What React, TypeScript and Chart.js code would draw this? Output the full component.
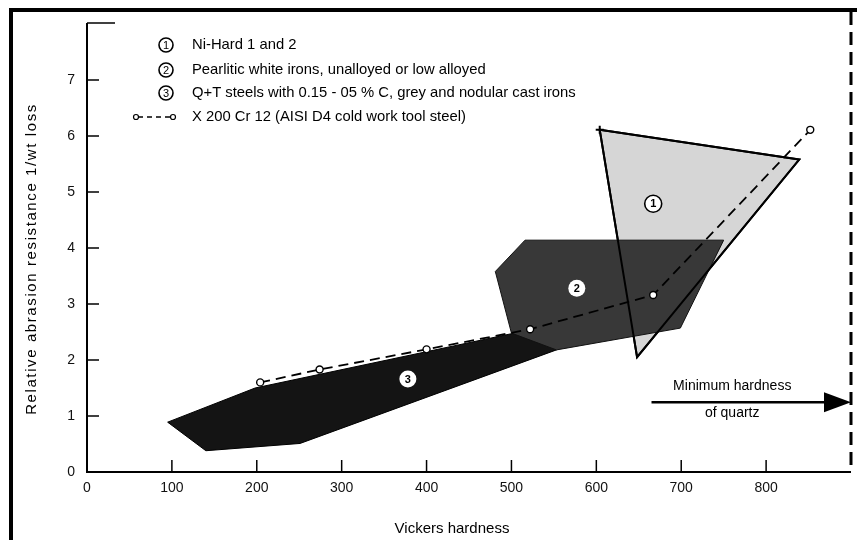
import React, { useEffect, useRef } from "react";
import { Chart, registerables } from "chart.js";

Chart.register(...registerables);

// ---- data ----
const niHardX = [604, 839, 648, 604];
const niHardY = [6.11, 5.58, 2.05, 6.11];

const pearliticX = [481, 516, 750, 699, 553, 500, 481];
const pearliticY = [3.58, 4.14, 4.14, 2.57, 2.18, 2.48, 3.58];

const qtSteelX = [95, 140, 251, 553, 522, 198, 95];
const qtSteelY = [0.89, 0.38, 0.51, 2.18, 2.54, 1.5, 0.89];

const toolSteelX = [204, 274, 400, 522, 667, 852];
const toolSteelY = [1.6, 1.83, 2.19, 2.55, 3.16, 6.11];

const xTickValues = [0, 100, 200, 300, 400, 500, 600, 700, 800];
const yTickValues = [0, 1, 2, 3, 4, 5, 6, 7];

const legendLabels = [
  "Ni-Hard 1 and 2",
  "Pearlitic white irons, unalloyed or low alloyed",
  "Q+T steels with 0.15 - 05 % C, grey and nodular cast irons",
  "X 200 Cr 12 (AISI D4 cold work tool steel)",
];
const legendMarks = ["1", "2", "3", ""];

const regionLabels = ["1", "2", "3"];
const regionLabelX = [667, 577, 378];
const regionLabelY = [4.79, 3.28, 1.66];

const quartzHardness = 900;
const arrowStartX = 665;
const arrowY = 1.245;
const quartzText = ["Minimum hardness", "of quartz"];

const xTitle = "Vickers hardness";
const yTitle = "Relative abrasion resistance 1/wt loss";

const FONT = '"Liberation Sans", Arial, sans-serif';

const pts = (xs: number[], ys: number[]) => xs.map((x, i) => ({ x, y: ys[i] }));

const overlay = {
  id: "overlay",
  beforeDraw(chart: any) {
    const ctx = chart.ctx;
    ctx.save();
    ctx.fillStyle = "#fff";
    ctx.fillRect(0, 0, chart.width, chart.height);
    ctx.restore();
  },
  afterDraw(chart: any) {
    const ctx = chart.ctx as CanvasRenderingContext2D;
    const xs = chart.scales.x;
    const ys = chart.scales.y;
    const { left, right, top, bottom } = chart.chartArea;
    ctx.save();
    ctx.strokeStyle = "#000";
    ctx.fillStyle = "#000";

    // frame
    ctx.fillRect(9, 8, 4, chart.height);
    ctx.fillRect(9, 8, chart.width, 4);

    // axes
    ctx.lineWidth = 2;
    ctx.beginPath();
    ctx.moveTo(left, top - 1);
    ctx.lineTo(left, bottom);
    ctx.lineTo(right, bottom);
    ctx.stroke();
    ctx.lineWidth = 1.5;
    ctx.beginPath();
    ctx.moveTo(left, top - 1);
    ctx.lineTo(left + 28, top - 1);
    ctx.stroke();

    // inward ticks
    ctx.lineWidth = 1.5;
    yTickValues.slice(1).forEach((v) => {
      const py = ys.getPixelForValue(v);
      ctx.beginPath();
      ctx.moveTo(left, py);
      ctx.lineTo(left + 12, py);
      ctx.stroke();
    });
    xTickValues.slice(1).forEach((v) => {
      const px = xs.getPixelForValue(v);
      ctx.beginPath();
      ctx.moveTo(px, bottom);
      ctx.lineTo(px, bottom - 12);
      ctx.stroke();
    });

    // quartz dashed line
    const qx = xs.getPixelForValue(quartzHardness);
    ctx.lineWidth = 3;
    ctx.setLineDash([13, 7]);
    ctx.beginPath();
    ctx.moveTo(qx, 12);
    ctx.lineTo(qx, bottom);
    ctx.stroke();
    ctx.setLineDash([]);

    // arrow
    const ay = ys.getPixelForValue(arrowY);
    const ax0 = xs.getPixelForValue(arrowStartX);
    ctx.lineWidth = 2.5;
    ctx.beginPath();
    ctx.moveTo(ax0, ay);
    ctx.lineTo(qx - 20, ay);
    ctx.stroke();
    ctx.beginPath();
    ctx.moveTo(qx, ay);
    ctx.lineTo(qx - 27, ay - 10);
    ctx.lineTo(qx - 27, ay + 10);
    ctx.closePath();
    ctx.fill();
    ctx.font = `14px ${FONT}`;
    ctx.textAlign = "center";
    ctx.textBaseline = "middle";
    const tcx = (ax0 + qx) / 2 - 19;
    ctx.fillText(quartzText[0], tcx, ay - 16);
    ctx.fillText(quartzText[1], tcx, ay + 11);

    // region labels
    regionLabels.forEach((lab, i) => {
      const px = xs.getPixelForValue(regionLabelX[i]);
      const py = ys.getPixelForValue(regionLabelY[i]);
      ctx.beginPath();
      ctx.arc(px, py, 8.5, 0, Math.PI * 2);
      ctx.fillStyle = "#fff";
      ctx.fill();
      if (i === 0) {
        ctx.lineWidth = 1.6;
        ctx.stroke();
      }
      ctx.fillStyle = "#000";
      ctx.font = `bold 11px ${FONT}`;
      ctx.fillText(lab, px, py + 0.5);
    });

    // legend
    const legY = [45, 70, 93, 117];
    legendLabels.forEach((lab, i) => {
      const y = legY[i];
      if (legendMarks[i]) {
        ctx.beginPath();
        ctx.arc(166, y, 7, 0, Math.PI * 2);
        ctx.fillStyle = "#fff";
        ctx.fill();
        ctx.lineWidth = 1.6;
        ctx.stroke();
        ctx.fillStyle = "#000";
        ctx.font = `11px ${FONT}`;
        ctx.textAlign = "center";
        ctx.fillText(legendMarks[i], 166, y + 0.5);
      } else {
        ctx.lineWidth = 1.5;
        ctx.setLineDash([5, 4]);
        ctx.beginPath();
        ctx.moveTo(138, y);
        ctx.lineTo(170, y);
        ctx.stroke();
        ctx.setLineDash([]);
        [136, 173].forEach((cx) => {
          ctx.beginPath();
          ctx.arc(cx, y, 2.5, 0, Math.PI * 2);
          ctx.fillStyle = "#fff";
          ctx.fill();
          ctx.lineWidth = 1.2;
          ctx.stroke();
        });
        ctx.fillStyle = "#000";
      }
      ctx.font = `14.8px ${FONT}`;
      ctx.textAlign = "left";
      ctx.fillText(lab, 192, y);
    });

    // titles
    ctx.font = `15px ${FONT}`;
    ctx.textAlign = "center";
    ctx.fillText(xTitle, 452, 529);
    ctx.save();
    ctx.translate(32, 259);
    ctx.rotate(-Math.PI / 2);
    (ctx as any).letterSpacing = "1.6px";
    ctx.fillText(yTitle, 0, 0);
    (ctx as any).letterSpacing = "0px";
    ctx.restore();

    ctx.restore();
  },
};

export default function App() {
  const ref = useRef<HTMLCanvasElement>(null);
  useEffect(() => {
    if (!ref.current) return;
    const chart = new Chart(ref.current, {
      type: "scatter",
      data: {
        datasets: [
          {
            label: "X 200 Cr 12",
            data: pts(toolSteelX, toolSteelY),
            showLine: true,
            borderColor: "#000",
            borderWidth: 1.8,
            borderDash: [10, 6],
            pointRadius: 3.5,
            pointBackgroundColor: "#fff",
            pointBorderColor: "#000",
            pointBorderWidth: 1.4,
            fill: false,
            order: 1,
          },
          {
            label: "Ni-Hard outline",
            data: pts(niHardX, niHardY),
            showLine: true,
            borderColor: "#000",
            borderWidth: 2,
            pointRadius: [4, 0, 0, 0],
            pointStyle: "cross",
            pointBorderColor: "#000",
            fill: false,
            order: 2,
          },
          {
            label: "Pearlitic white irons",
            data: pts(pearliticX, pearliticY),
            showLine: true,
            borderColor: "#111",
            borderWidth: 1,
            backgroundColor: "#383838",
            pointRadius: 0,
            fill: "shape",
            order: 3,
          },
          {
            label: "Q+T steels",
            data: pts(qtSteelX, qtSteelY),
            showLine: true,
            borderColor: "#000",
            borderWidth: 1,
            backgroundColor: "#141414",
            pointRadius: 0,
            fill: "shape",
            order: 4,
          },
          {
            label: "Ni-Hard 1 and 2",
            data: pts(niHardX, niHardY),
            showLine: true,
            borderColor: "#000",
            borderWidth: 2,
            backgroundColor: "#d6d6d6",
            pointRadius: 0,
            fill: "shape",
            order: 5,
          },
        ],
      },
      options: {
        animation: false,
        responsive: false,
        devicePixelRatio: 1,
        layout: { padding: { left: 0, top: 24, right: 6, bottom: 0 } },
        plugins: {
          legend: { display: false },
          tooltip: { enabled: false },
        },
        scales: {
          x: {
            type: "linear",
            min: 0,
            max: 900,
            grid: { display: false, drawTicks: false },
            border: { display: false },
            afterBuildTicks: (s: any) => {
              s.ticks = xTickValues.map((v) => ({ value: v }));
            },
            ticks: {
              color: "#111",
              font: { family: FONT, size: 14 },
              padding: 8,
              maxRotation: 0,
              autoSkip: false,
            },
            afterFit: (s: any) => {
              s.height = 68;
            },
          },
          y: {
            type: "linear",
            min: 0,
            max: 8,
            grid: { display: false, drawTicks: false },
            border: { display: false },
            afterBuildTicks: (s: any) => {
              s.ticks = yTickValues.map((v) => ({ value: v }));
            },
            ticks: {
              color: "#111",
              font: { family: FONT, size: 14 },
              padding: 12,
              autoSkip: false,
            },
            afterFit: (s: any) => {
              s.width = 87;
            },
          },
        },
      },
      plugins: [overlay],
    });
    return () => chart.destroy();
  }, []);
  return (
    <div style={{ position: "fixed", left: 0, top: 0, width: 857, height: 540, overflow: "hidden", background: "#fff" }}>
      <canvas ref={ref} width={857} height={540} style={{ width: 857, height: 540, display: "block" }} />
    </div>
  );
}
